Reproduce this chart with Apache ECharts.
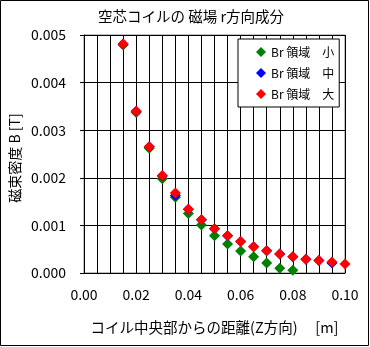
<!DOCTYPE html>
<html><head><meta charset="utf-8">
<script src="https://cdn.jsdelivr.net/npm/echarts@6/dist/echarts.min.js"></script>
<style>html,body{margin:0;padding:0;background:#fff}#c{width:370px;height:347px}</style>
</head><body><div id="c"></div>
<script>
var xSmall = [0.015,0.020,0.025,0.030,0.035,0.040,0.045,0.050,0.055,0.060,0.065,0.070,0.075,0.080];
var ySmall = [0.00479,0.00337,0.00262,0.00198,0.00159,0.00125,0.00101,0.00078,0.00061,0.00046,0.00034,0.00021,0.00010,0.00006];
var xMid = [0.015,0.020,0.025,0.030,0.035,0.040,0.045,0.050,0.055,0.060,0.065,0.070,0.075,0.080,0.085,0.090,0.095];
var yMid = [0.00481,0.00340,0.00265,0.00204,0.00163,0.00134,0.00112,0.00093,0.00078,0.00066,0.00055,0.00047,0.00040,0.00034,0.00029,0.00026,0.00021];
var xLarge = [0.015,0.020,0.025,0.030,0.035,0.040,0.045,0.050,0.055,0.060,0.065,0.070,0.075,0.080,0.085,0.090,0.095,0.100];
var yLarge = [0.00481,0.00340,0.00265,0.00205,0.00168,0.00134,0.00112,0.00093,0.00078,0.00066,0.00055,0.00047,0.00040,0.00034,0.00029,0.00026,0.00023,0.00019];
var seriesNames = ['Br 領域\u3000小','Br 領域\u3000中','Br 領域\u3000大'];
var yAxisTitle = '磁束密度 B [T]';
var colors = ['#008000','#0000ff','#ff0000'];
function pairs(xs, ys){ return xs.map(function(x,i){ return [x, ys[i]]; }); }
var F = "'Noto Sans CJK JP', 'Noto Sans', sans-serif";
var chart = echarts.init(document.getElementById('c'), null, {renderer:'canvas'});
var data = [pairs(xSmall,ySmall), pairs(xMid,yMid), pairs(xLarge,yLarge)];
chart.setOption({
  animation:false,
  backgroundColor:'#fff',
  title:{text:'空芯コイルの 磁場 r方向成分', left:186, textAlign:'center', top:4,
    textStyle:{fontFamily:F, fontSize:14.5, fontWeight:'normal', color:'#000'}},
  grid:{left:84, right:25, top:35, bottom:74, show:true, borderColor:'#808080', borderWidth:1, backgroundColor:'transparent'},
  legend:{orient:'vertical', left:238, top:39, data:seriesNames,
    backgroundColor:'#fff', borderColor:'#000', borderWidth:1, borderRadius:0,
    padding:[7,5,7,18], itemGap:9, itemWidth:10, itemHeight:10, icon:'diamond',
    textStyle:{fontFamily:F, fontSize:12, color:'#000'}},
  xAxis:{type:'value', min:0, max:0.1, interval:0.005,
    name:'コイル中央部からの距離(Z方向)\u3000 [m]', nameLocation:'middle', nameGap:47,
    nameTextStyle:{fontFamily:F, fontSize:14.5, color:'#000'},
    axisLine:{show:true, lineStyle:{color:'#000', width:1}},
    axisTick:{show:false},
    splitLine:{show:true, lineStyle:{color:'#000', width:1}},
    axisLabel:{margin:15, fontFamily:F, fontSize:14, color:'#000',
      formatter:function(v){ return Math.round(v*1000)%20===0 ? v.toFixed(2) : ''; }}},
  yAxis:{type:'value', min:0, max:0.005, interval:0.001,
    axisLine:{show:true, lineStyle:{color:'#000', width:1}},
    axisTick:{show:true, length:4, lineStyle:{color:'#000'}},
    splitLine:{show:true, lineStyle:{color:'#000', width:1}},
    axisLabel:{margin:18, fontFamily:F, fontSize:14, color:'#000',
      formatter:function(v){ return v.toFixed(3); }}},
  series:[0,1,2].map(function(i){ return {
    name:seriesNames[i], type:'scatter', data:data[i], symbol:'diamond', symbolSize:11,
    itemStyle:{color:colors[i], opacity:1}, z:2+i }; }),
  graphic:[
    {type:'rect', shape:{x:0.5,y:0.5,width:368,height:345}, style:{fill:'none', stroke:'#000', lineWidth:1}, silent:true},
    {type:'text', x:15, y:158, rotation:Math.PI/2, silent:true,
      style:{text:yAxisTitle, font:"14px 'Noto Sans CJK JP', sans-serif", fill:'#000', textAlign:'center', textVerticalAlign:'middle'}}
  ]
});
</script></body></html>
